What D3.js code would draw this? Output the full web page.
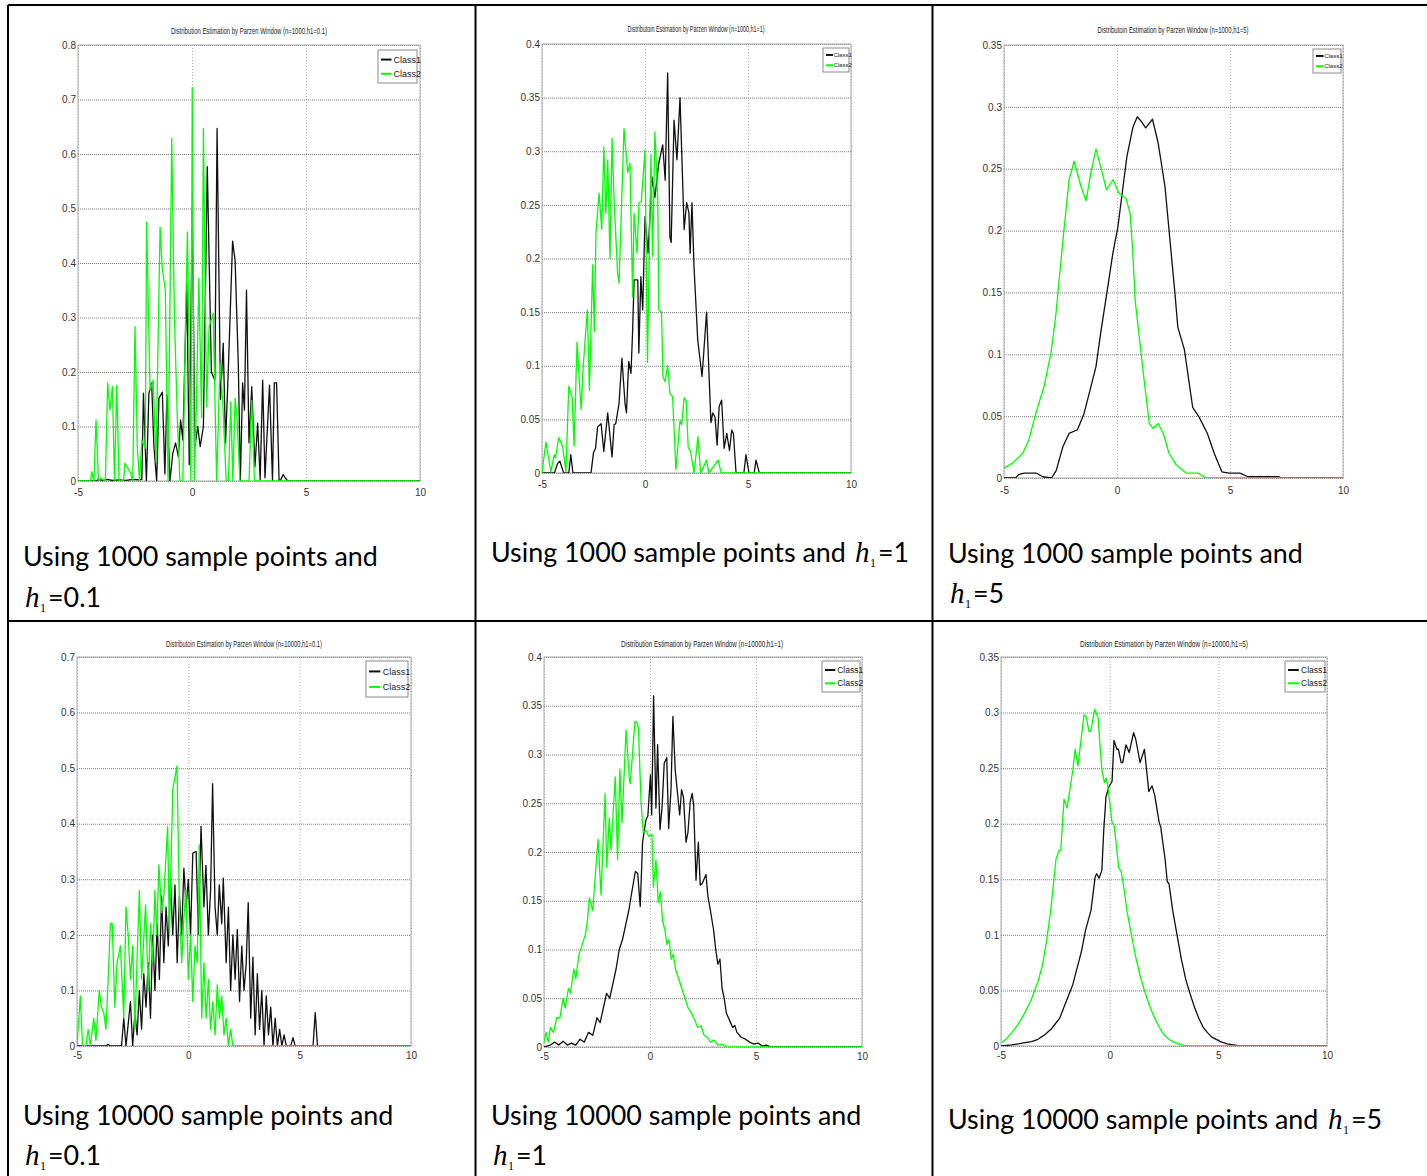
<!DOCTYPE html>
<html>
<head>
<meta charset="utf-8">
<script src="https://cdn.jsdelivr.net/npm/d3@7"></script>
<style>
    body { margin: 0; background: #fff; }
    svg { display: block; }
</style>
</head>
<body>
<svg id="fig" width="1427" height="1176"></svg>
<script>
// ---- data: [x, density] ----
const xTicks = [-5, 0, 5, 10];
const p1YTicks = [0, 0.1, 0.2, 0.3, 0.4, 0.5, 0.6, 0.7, 0.8];
const p2YTicks = [0, 0.05, 0.1, 0.15, 0.2, 0.25, 0.3, 0.35, 0.4];
const p3YTicks = [0, 0.05, 0.1, 0.15, 0.2, 0.25, 0.3, 0.35];
const p4YTicks = [0, 0.1, 0.2, 0.3, 0.4, 0.5, 0.6, 0.7];
const p5YTicks = [0, 0.05, 0.1, 0.15, 0.2, 0.25, 0.3, 0.35, 0.4];
const p6YTicks = [0, 0.05, 0.1, 0.15, 0.2, 0.25, 0.3, 0.35];

const seriesNames = ["Class1", "Class2"];

const p1Class1 = [[-5,0],[-4.2,0],[-4.1,0.003],[-3.9,0.001],[-3.7,0.003],[-3.5,0.001],[-3.2,0.002],[-2.9,0.001],[-2.6,0.003],[-2.3,0.002],[-2.2,0.003],[-2.13,0.161],[-2.0,0],[-1.89,0.161],[-1.77,0.18],[-1.67,0.063],[-1.55,0],[-1.45,0.152],[-1.3,0.163],[-1.19,0.013],[-1.1,0.158],[-0.97,0],[-0.84,0.051],[-0.72,0.07],[-0.6,0.045],[-0.5,0.112],[-0.4,0.075],[-0.23,0.363],[-0.12,0.03],[0.01,0.503],[0.13,0.063],[0.25,0.1],[0.36,0.063],[0.5,0.1],[0.67,0.577],[0.85,0.2],[1.0,0.185],[1.1,0.647],[1.25,0.15],[1.37,0.253],[1.47,0.07],[1.59,0.2],[1.78,0.44],[1.89,0.405],[2.03,0.216],[2.12,0],[2.22,0.18],[2.3,0.13],[2.39,0.35],[2.5,0.07],[2.62,0.173],[2.76,0.026],[2.88,0.106],[2.99,0.003],[3.1,0.185],[3.2,0.006],[3.4,0.176],[3.53,0],[3.61,0.18],[3.71,0.18],[3.82,0],[3.9,0.003],[4.0,0.012],[4.1,0.005],[4.2,0],[10,0]];
const p1Class2 = [[-5,0],[-4.45,0],[-4.4,0.017],[-4.3,0],[-4.21,0.112],[-4.1,0],[-4.0,0.005],[-3.8,0],[-3.7,0.18],[-3.6,0.13],[-3.49,0.173],[-3.4,0],[-3.3,0.176],[-3.2,0],[-3.0,0],[-2.94,0.033],[-2.7,0.015],[-2.6,0],[-2.5,0.283],[-2.4,0.063],[-2.3,0],[-2.2,0.075],[-2.05,0.06],[-1.99,0.475],[-1.84,0.167],[-1.7,0.185],[-1.58,0.035],[-1.4,0.466],[-1.31,0.393],[-1.17,0.35],[-1.05,0],[-0.89,0.629],[-0.77,0.3],[-0.65,0.124],[-0.53,0],[-0.4,0],[-0.28,0.3],[-0.2,0.457],[-0.05,0],[0.01,0.722],[0.1,0],[0.2,0.155],[0.3,0.372],[0.42,0.117],[0.5,0.647],[0.64,0.136],[0.75,0.283],[0.93,0.308],[1.08,0],[1.23,0.216],[1.35,0.143],[1.5,0],[1.6,0],[1.7,0.145],[1.79,0],[1.89,0.152],[1.98,0.112],[2.1,0],[2.5,0],[2.62,0.148],[2.74,0],[10,0]];

const p2Class1 = [[-5,0],[-4.4,0],[-4.24,0.009],[-4.13,0.011],[-3.95,0],[-3.7,0],[-3.6,0.017],[-3.5,0],[-2.62,0],[-2.5,0.019],[-2.4,0.023],[-2.3,0.043],[-2.13,0.046],[-2.0,0.02],[-1.81,0.056],[-1.6,0.015],[-1.5,0.045],[-1.42,0.046],[-1.26,0.065],[-1.12,0.107],[-0.97,0.065],[-0.9,0.056],[-0.79,0.104],[-0.68,0.093],[-0.6,0.133],[-0.53,0.18],[-0.42,0.18],[-0.35,0.18],[-0.3,0.112],[-0.2,0.183],[-0.11,0.152],[0.0,0.239],[0.15,0.205],[0.34,0.276],[0.48,0.257],[0.67,0.289],[0.86,0.306],[0.98,0.273],[1.1,0.373],[1.21,0.22],[1.27,0.215],[1.41,0.329],[1.55,0.292],[1.7,0.35],[1.9,0.227],[2.02,0.252],[2.13,0.243],[2.19,0.205],[2.28,0.252],[2.38,0.192],[2.56,0.124],[2.77,0.09],[2.99,0.15],[3.2,0.047],[3.29,0.056],[3.4,0.052],[3.5,0.026],[3.6,0.062],[3.72,0.068],[3.84,0.023],[3.97,0.037],[4.1,0.021],[4.21,0.04],[4.29,0.037],[4.42,0],[4.8,0],[4.9,0.017],[5.05,0],[5.3,0],[5.39,0.012],[5.55,0],[10,0]];
const p2Class2 = [[-5,0],[-4.81,0.029],[-4.57,0.001],[-4.41,0.017],[-4.35,0.014],[-4.19,0.033],[-4.0,0.025],[-3.84,0.001],[-3.7,0.081],[-3.54,0.071],[-3.44,0.025],[-3.3,0.122],[-3.1,0.059],[-3.0,0.099],[-2.8,0.152],[-2.7,0.077],[-2.54,0.194],[-2.46,0.132],[-2.38,0.224],[-2.23,0.261],[-2.1,0.227],[-2.0,0.304],[-1.9,0.242],[-1.81,0.292],[-1.7,0.2],[-1.6,0.312],[-1.5,0.255],[-1.33,0.186],[-1.26,0.177],[-1.02,0.321],[-0.84,0.28],[-0.73,0.289],[-0.6,0.164],[-0.53,0.242],[-0.39,0.205],[-0.29,0.252],[-0.18,0.253],[0.0,0.301],[0.12,0.103],[0.29,0.297],[0.37,0.202],[0.48,0.318],[0.62,0.255],[0.67,0.152],[0.8,0.15],[0.87,0.09],[0.97,0.085],[1.1,0.1],[1.21,0.074],[1.34,0.071],[1.5,0.003],[1.7,0.049],[1.78,0.045],[1.9,0.07],[2.0,0.067],[2.1,0.023],[2.2,0.021],[2.38,0],[2.57,0.034],[2.7,0],[2.99,0.012],[3.1,0],[3.55,0.012],[3.7,0],[10,0]];

const p3Class1 = [[-5,0],[-4.5,0],[-4.33,0.003],[-4.1,0.004],[-3.58,0.004],[-3.28,0.001],[-2.9,0],[-2.69,0.006],[-2.4,0.025],[-2.12,0.036],[-1.75,0.039],[-1.46,0.052],[-1.15,0.074],[-0.93,0.09],[-0.7,0.12],[-0.47,0.147],[-0.18,0.182],[0.04,0.203],[0.27,0.236],[0.44,0.26],[0.71,0.284],[0.9,0.292],[1.08,0.288],[1.27,0.283],[1.57,0.29],[1.82,0.271],[2.12,0.236],[2.34,0.193],[2.56,0.15],[2.69,0.122],[2.98,0.104],[3.35,0.057],[3.64,0.049],[4.0,0.036],[4.3,0.02],[4.64,0.005],[4.96,0.004],[5.44,0.004],[5.8,0.001],[7.17,0.001],[7.3,0],[10,0]];
const p3Class2 = [[-5,0.008],[-4.62,0.012],[-4.17,0.02],[-3.9,0.031],[-3.58,0.053],[-3.23,0.074],[-2.92,0.101],[-2.7,0.133],[-2.56,0.16],[-2.35,0.2],[-2.12,0.241],[-1.9,0.256],[-1.6,0.236],[-1.37,0.224],[-1.15,0.247],[-0.93,0.266],[-0.66,0.247],[-0.47,0.233],[-0.17,0.241],[0.09,0.23],[0.4,0.226],[0.58,0.214],[0.7,0.182],[0.8,0.144],[0.98,0.115],[1.2,0.079],[1.43,0.044],[1.6,0.04],[1.82,0.044],[2.05,0.036],[2.3,0.02],[2.6,0.011],[3.05,0.004],[3.57,0.004],[3.94,0],[10,0]];

const p4Class1 = [[-5,0],[-3.7,0],[-3.6,0.003],[-3.5,0],[-3.0,0],[-2.9,0.05],[-2.8,0],[-2.6,0.08],[-2.5,0],[-2.4,0.06],[-2.3,0.02],[-2.2,0.1],[-2.1,0.03],[-2.0,0.13],[-1.9,0.07],[-1.8,0.15],[-1.7,0.05],[-1.6,0.2],[-1.5,0.1],[-1.4,0.22],[-1.3,0.12],[-1.2,0.27],[-1.1,0.15],[-1.0,0.25],[-0.9,0.18],[-0.8,0.3],[-0.7,0.2],[-0.6,0.29],[-0.5,0.15],[-0.4,0.27],[-0.3,0.2],[-0.2,0.32],[-0.1,0.25],[0.0,0.3],[0.1,0.2],[0.2,0.347],[0.35,0.35],[0.45,0.2],[0.57,0.395],[0.7,0.25],[0.79,0.325],[0.9,0.2],[1.0,0.28],[1.09,0.472],[1.2,0.25],[1.3,0.2],[1.39,0.29],[1.5,0.22],[1.57,0.302],[1.7,0.15],[1.8,0.25],[1.9,0.1],[2.0,0.2],[2.1,0.12],[2.2,0.21],[2.3,0.08],[2.4,0.18],[2.5,0.1],[2.6,0.15],[2.69,0.258],[2.8,0.05],[2.9,0.16],[3.0,0.02],[3.1,0.13],[3.2,0.03],[3.3,0.1],[3.4,0],[3.5,0.09],[3.6,0.02],[3.7,0.07],[3.8,0],[3.9,0.05],[4.0,0],[4.1,0.03],[4.2,0],[4.3,0.02],[4.4,0],[4.6,0],[4.7,0.015],[4.8,0],[5.6,0],[5.7,0.06],[5.8,0],[10,0]];
const p4Class2 = [[-5,0],[-4.85,0.09],[-4.75,0],[-4.6,0],[-4.5,0.03],[-4.4,0],[-4.25,0.05],[-4.15,0.01],[-4.0,0.1],[-3.9,0.07],[-3.8,0.06],[-3.7,0.03],[-3.6,0.12],[-3.5,0.22],[-3.42,0.22],[-3.3,0.07],[-3.2,0.15],[-3.05,0.18],[-2.9,0.05],[-2.8,0.25],[-2.7,0.2],[-2.6,0.12],[-2.5,0.18],[-2.4,0.03],[-2.3,0.16],[-2.2,0.28],[-2.1,0.12],[-1.92,0.254],[-1.8,0.1],[-1.7,0.22],[-1.6,0.15],[-1.5,0.28],[-1.42,0.2],[-1.32,0.326],[-1.2,0.24],[-1.1,0.27],[-0.93,0.395],[-0.85,0.2],[-0.7,0.461],[-0.51,0.504],[-0.4,0.25],[-0.3,0.15],[-0.2,0.23],[-0.11,0.281],[0.0,0.12],[0.1,0.2],[0.2,0.08],[0.3,0.18],[0.4,0.15],[0.49,0.362],[0.6,0.05],[0.7,0.15],[0.8,0.05],[0.9,0.12],[1.0,0.03],[1.1,0.08],[1.2,0.02],[1.3,0.11],[1.4,0.05],[1.5,0.09],[1.6,0.02],[1.7,0.05],[1.8,0],[1.9,0.03],[2.0,0],[10,0]];

const p5Class1 = [[-5,0],[-4.7,0.002],[-4.5,0.005],[-4.3,0.002],[-4.1,0.006],[-3.9,0.002],[-3.7,0.004],[-3.5,0.002],[-3.3,0.008],[-3.1,0.005],[-2.9,0.015],[-2.7,0.012],[-2.5,0.03],[-2.35,0.025],[-2.2,0.04],[-2.05,0.055],[-1.9,0.05],[-1.75,0.065],[-1.6,0.08],[-1.45,0.1],[-1.3,0.11],[-1.15,0.125],[-1.0,0.14],[-0.85,0.16],[-0.69,0.18],[-0.58,0.178],[-0.46,0.144],[-0.35,0.21],[-0.27,0.222],[-0.19,0.233],[-0.1,0.237],[0.02,0.279],[0.08,0.238],[0.17,0.36],[0.28,0.245],[0.36,0.31],[0.47,0.223],[0.57,0.246],[0.67,0.291],[0.79,0.297],[0.88,0.224],[0.99,0.264],[1.08,0.339],[1.19,0.284],[1.3,0.26],[1.4,0.238],[1.49,0.264],[1.58,0.256],[1.7,0.21],[1.79,0.22],[1.9,0.252],[1.99,0.26],[2.06,0.248],[2.17,0.171],[2.28,0.21],[2.37,0.166],[2.47,0.168],[2.64,0.177],[2.73,0.155],[2.85,0.14],[3.0,0.12],[3.1,0.1],[3.2,0.085],[3.3,0.09],[3.4,0.06],[3.5,0.05],[3.6,0.035],[3.7,0.03],[3.8,0.025],[3.9,0.02],[4.0,0.022],[4.1,0.015],[4.3,0.01],[4.5,0.008],[4.7,0.005],[4.9,0.003],[5.1,0.004],[5.3,0.001],[5.5,0.002],[5.7,0],[10,0]];
const p5Class2 = [[-5,0.005],[-4.9,0.015],[-4.8,0.005],[-4.7,0.02],[-4.55,0.015],[-4.4,0.03],[-4.25,0.03],[-4.1,0.05],[-4.0,0.04],[-3.85,0.06],[-3.75,0.055],[-3.6,0.08],[-3.5,0.07],[-3.35,0.095],[-3.2,0.105],[-3.05,0.115],[-2.95,0.13],[-2.86,0.153],[-2.7,0.14],[-2.6,0.17],[-2.45,0.213],[-2.31,0.156],[-2.12,0.26],[-2.04,0.184],[-1.92,0.235],[-1.84,0.202],[-1.64,0.277],[-1.53,0.192],[-1.42,0.285],[-1.32,0.23],[-1.13,0.325],[-0.97,0.274],[-0.93,0.27],[-0.71,0.334],[-0.62,0.333],[-0.55,0.328],[-0.42,0.25],[-0.32,0.22],[-0.19,0.222],[-0.06,0.216],[0.09,0.218],[0.16,0.164],[0.28,0.192],[0.39,0.148],[0.49,0.159],[0.59,0.13],[0.7,0.12],[0.8,0.105],[0.9,0.11],[1.0,0.09],[1.1,0.095],[1.2,0.08],[1.35,0.07],[1.5,0.06],[1.65,0.05],[1.8,0.04],[1.95,0.035],[2.1,0.028],[2.25,0.02],[2.4,0.022],[2.55,0.012],[2.7,0.01],[2.85,0.005],[3.0,0.007],[3.2,0.002],[3.4,0.003],[3.6,0],[10,0]];

const p6Class1 = [[-5,0],[-4.5,0.001],[-4.2,0.002],[-3.9,0.003],[-3.6,0.004],[-3.3,0.006],[-3.0,0.01],[-2.7,0.015],[-2.5,0.02],[-2.3,0.025],[-2.1,0.035],[-1.9,0.045],[-1.7,0.055],[-1.5,0.07],[-1.3,0.085],[-1.1,0.105],[-0.86,0.122],[-0.67,0.152],[-0.6,0.155],[-0.49,0.151],[-0.36,0.158],[-0.27,0.195],[-0.17,0.224],[-0.04,0.233],[0.11,0.238],[0.2,0.275],[0.33,0.267],[0.4,0.267],[0.53,0.255],[0.6,0.255],[0.75,0.271],[0.9,0.264],[1.1,0.282],[1.2,0.276],[1.4,0.255],[1.6,0.267],[1.8,0.229],[1.95,0.234],[2.07,0.226],[2.28,0.201],[2.35,0.197],[2.55,0.168],[2.65,0.148],[2.73,0.146],[2.9,0.122],[3.1,0.1],[3.3,0.078],[3.5,0.06],[3.7,0.047],[3.9,0.035],[4.1,0.025],[4.3,0.017],[4.5,0.012],[4.7,0.008],[4.9,0.006],[5.1,0.004],[5.4,0.002],[5.7,0.001],[6.0,0],[10,0]];
const p6Class2 = [[-5,0.003],[-4.77,0.006],[-4.5,0.012],[-4.2,0.02],[-3.9,0.03],[-3.6,0.042],[-3.3,0.058],[-3.1,0.072],[-2.9,0.095],[-2.7,0.124],[-2.47,0.168],[-2.33,0.176],[-2.25,0.176],[-2.1,0.222],[-1.96,0.214],[-1.69,0.249],[-1.59,0.267],[-1.46,0.252],[-1.18,0.298],[-1.08,0.296],[-0.95,0.283],[-0.87,0.283],[-0.69,0.303],[-0.53,0.295],[-0.43,0.266],[-0.35,0.247],[-0.24,0.237],[-0.16,0.241],[-0.08,0.233],[0.11,0.201],[0.21,0.198],[0.42,0.16],[0.53,0.157],[0.68,0.139],[0.79,0.122],[1.0,0.1],[1.2,0.08],[1.4,0.063],[1.6,0.05],[1.8,0.038],[2.0,0.028],[2.2,0.02],[2.4,0.013],[2.6,0.008],[2.8,0.005],[3.0,0.003],[3.3,0.001],[3.6,0],[10,0]];

const titles = [
    "Distribution Estimation by Parzen Window (n=1000,h1=0.1)",
    "Distributoin Estimation by Parzen Window (n=1000,h1=1)",
    "Distributoin Estimation by Parzen Window (n=1000,h1=5)",
    "Distributoin Estimation by Parzen Window (n=10000,h1=0.1)",
    "Distribution Estimation by Parzen Window (n=10000,h1=1)",
    "Distribution Estimation by Parzen Window (n=10000,h1=5)"
];
const captionText = ["Using 1000 sample points and", "Using 1000 sample points and", "Using 1000 sample points and",
    "Using 10000 sample points and", "Using 10000 sample points and", "Using 10000 sample points and"];
const hValues = ["=0.1", "=1", "=5", "=0.1", "=1", "=5"];

if (window.system == undefined) window.system = {}
system.figure = (function () {
    const that = this;
    const svg = d3.select("#fig");
    const tickFont = "'Liberation Sans Narrow', 'Arial Narrow', 'Liberation Sans', sans-serif";
    const capFont = "Lato, 'Open Sans', sans-serif";
    const colors = ["#101010", "#00ff00"];

    // layout of each panel (pixels)
    this.panels = [
        { left: 78, right: 420, top: 45, bottom: 481, yMax: 0.8, yTicks: p1YTicks, data: [p1Class1, p1Class2],
          tx: 249, ty: 34, tw: 156, xPad: 8, leg: { x: 378, y: 50, w: 39, h: 33, fs: 9 },
          cap: { x: 23, y: 566, hx: 25, hy: 607 } },
        { left: 542, right: 851, top: 44, bottom: 473, yMax: 0.4, yTicks: p2YTicks, data: [p2Class1, p2Class2],
          tx: 696, ty: 32, tw: 137, xPad: 8, leg: { x: 823, y: 48, w: 26, h: 24, fs: 6 },
          cap: { x: 491, y: 562, hx: 855, hy: 562 } },
        { left: 1004, right: 1343, top: 45, bottom: 478, yMax: 0.35, yTicks: p3YTicks, data: [p3Class1, p3Class2],
          tx: 1173, ty: 33, tw: 151, xPad: 9, leg: { x: 1313, y: 49, w: 28, h: 24, fs: 6 },
          cap: { x: 948, y: 563, hx: 950, hy: 603 } },
        { left: 77, right: 411, top: 657, bottom: 1046, yMax: 0.7, yTicks: p4YTicks, data: [p4Class1, p4Class2],
          tx: 244, ty: 647, tw: 156, xPad: 6, leg: { x: 366, y: 661, w: 42, h: 36, fs: 9 },
          cap: { x: 23, y: 1125, hx: 25, hy: 1165 } },
        { left: 544, right: 862, top: 657, bottom: 1047, yMax: 0.4, yTicks: p5YTicks, data: [p5Class1, p5Class2],
          tx: 702, ty: 647, tw: 162, xPad: 6, leg: { x: 822, y: 661, w: 38, h: 31, fs: 8.5 },
          cap: { x: 491, y: 1125, hx: 493, hy: 1165 } },
        { left: 1001, right: 1327, top: 657, bottom: 1046, yMax: 0.35, yTicks: p6YTicks, data: [p6Class1, p6Class2],
          tx: 1164, ty: 647, tw: 168, xPad: 6, leg: { x: 1285, y: 661, w: 40, h: 31, fs: 8.5 },
          cap: { x: 948, y: 1129, hx: 1328, hy: 1129 } }
    ];

    this.drawTable = () => {
        const lines = [[8, 5, 1427, 5], [8, 5, 8, 1176], [475.5, 5, 475.5, 1176], [932.5, 5, 932.5, 1176], [8, 621, 1427, 621]];
        svg.selectAll(".cell-line").data(lines).enter().append("line")
            .attr("class", "cell-line")
            .attr("x1", d => d[0]).attr("y1", d => d[1])
            .attr("x2", d => d[2]).attr("y2", d => d[3])
            .style("stroke", "#000").style("stroke-width", 2);
    }

    this.drawPanel = (p, i) => {
        const x = d3.scaleLinear().domain([-5, 10]).range([p.left, p.right]);
        const y = d3.scaleLinear().domain([0, p.yMax]).range([p.bottom, p.top]);
        const g = svg.append("g").attr("id", "panel" + i);
        const fmt = v => String(+v.toFixed(2));

        // y grid + labels
        const ya = g.append("g")
            .attr("transform", "translate(" + p.left + ",0)")
            .call(d3.axisLeft(y).tickValues(p.yTicks).tickFormat(fmt).tickSize(-(p.right - p.left)).tickPadding(2));
        ya.select(".domain").remove();
        ya.selectAll("line").style("stroke", "#555").style("stroke-dasharray", "1,1").style("stroke-width", 0.8);
        ya.selectAll("text").attr("font-family", tickFont).attr("font-size", 10).style("fill", "#333");

        // x grid + labels
        const xa = g.append("g")
            .attr("transform", "translate(0," + p.bottom + ")")
            .call(d3.axisBottom(x).tickValues(xTicks).tickFormat(fmt).tickSize(-(p.bottom - p.top)).tickPadding(p.xPad));
        xa.select(".domain").remove();
        xa.selectAll("line").style("stroke", "#999").style("stroke-dasharray", "1,2").style("stroke-width", 0.8);
        xa.selectAll("text").attr("font-family", tickFont).attr("font-size", 10).style("fill", "#333");

        // plot box
        g.append("rect")
            .attr("x", p.left).attr("y", p.top)
            .attr("width", p.right - p.left).attr("height", p.bottom - p.top)
            .style("fill", "none").style("stroke", "#a8a8a8").style("stroke-width", 1);

        g.append("clipPath").attr("id", "clip" + i)
            .append("rect")
            .attr("x", p.left).attr("y", p.top - 1)
            .attr("width", p.right - p.left).attr("height", p.bottom - p.top + 1);

        const line = d3.line().x(d => x(d[0])).y(d => y(d[1]));
        g.append("g").attr("clip-path", "url(#clip" + i + ")")
            .selectAll("path").data(p.data).enter().append("path")
            .attr("d", line)
            .style("fill", "none")
            .style("stroke", (d, k) => colors[k])
            .style("stroke-width", 1.3)
            .style("stroke-linejoin", "round");

        // title
        g.append("text")
            .attr("x", p.tx).attr("y", p.ty)
            .attr("text-anchor", "middle")
            .attr("font-family", tickFont).attr("font-size", 9)
            .attr("textLength", p.tw).attr("lengthAdjust", "spacingAndGlyphs")
            .style("fill", "#222")
            .text(titles[i]);

        // legend
        const L = p.leg;
        const lg = g.append("g");
        lg.append("rect")
            .attr("x", L.x).attr("y", L.y).attr("width", L.w).attr("height", L.h)
            .style("fill", "#fff").style("stroke", "#8a8a8a").style("stroke-width", 1);
        seriesNames.forEach((name, k) => {
            const ry = L.y + L.h * (k == 0 ? 0.29 : 0.72);
            lg.append("line")
                .attr("x1", L.x + 3).attr("x2", L.x + 3 + L.w * 0.27)
                .attr("y1", ry).attr("y2", ry)
                .style("stroke", colors[k]).style("stroke-width", 2);
            lg.append("text")
                .attr("x", L.x + L.w * 0.4).attr("y", ry).attr("dy", "0.35em")
                .attr("font-family", tickFont).attr("font-size", L.fs)
                .style("fill", "#222")
                .text(name);
        });
    }

    // caption under each plot: text, then italic h with subscript 1, then the value
    this.drawCaption = (p, i, capSize) => {
        const c = p.cap;
        svg.append("text")
            .attr("x", c.x).attr("y", c.y)
            .attr("font-family", capFont).attr("font-size", capSize)
            .style("fill", "#000")
            .text(captionText[i]);
        svg.append("text")
            .attr("x", c.hx).attr("y", c.hy)
            .attr("font-family", "'Liberation Serif', serif").attr("font-style", "italic").attr("font-size", 29)
            .text("h");
        svg.append("text")
            .attr("x", c.hx + 15).attr("y", c.hy + 5)
            .attr("font-family", "'Liberation Serif', serif").attr("font-size", 12)
            .text("1");
        svg.append("text")
            .attr("x", c.hx + 23).attr("y", c.hy)
            .attr("font-family", capFont).attr("font-size", capSize)
            .text(hValues[i]);
    }

    this.draw = () => {
        that.drawTable();
        const probe = svg.append("text").attr("font-family", capFont).attr("font-size", 24).text(captionText[0]);
        const capSize = 24 * 355 / probe.node().getComputedTextLength();
        probe.remove();
        that.panels.forEach((p, i) => {
            that.drawPanel(p, i);
            that.drawCaption(p, i, capSize);
        });
    }

    return this;
}).call({})

system.figure.draw();
</script>
</body>
</html>
